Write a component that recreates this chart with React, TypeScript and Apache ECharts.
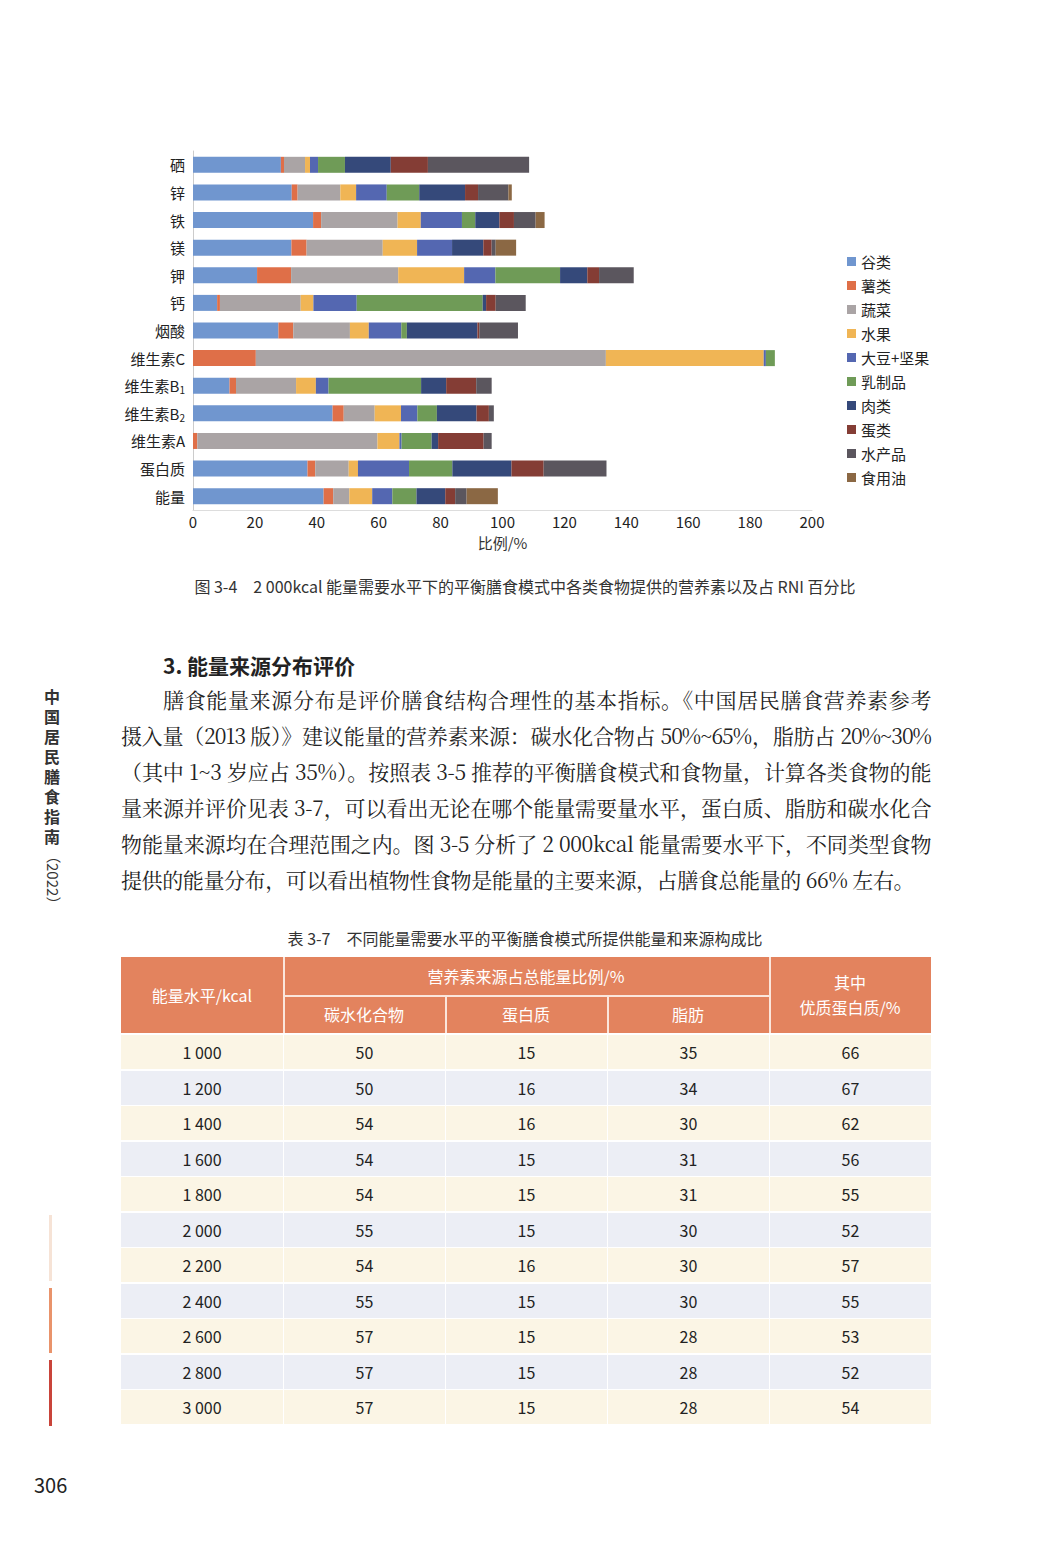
import React, { useEffect, useRef } from "react";
import * as echarts from "echarts";

const categories = ["硒", "锌", "铁", "镁", "钾", "钙", "烟酸", "维生素C", "维生素B1", "维生素B2", "维生素A", "蛋白质", "能量"];
const seriesNames = ["谷类", "薯类", "蔬菜", "水果", "大豆+坚果", "乳制品", "肉类", "蛋类", "水产品", "食用油"];
const colors = ["#7096cf", "#df6f48", "#aaa4a5", "#f0b555", "#5467b1", "#6f9b57", "#35497a", "#843d35", "#5b565e", "#8b6844"];
// rows: one per category, values per series
const rowSe = [28.4, 1.0, 6.8, 1.6, 2.6, 8.7, 14.8, 12.0, 32.7, 0];
const rowZn = [31.9, 1.9, 13.8, 5.1, 9.9, 10.5, 14.8, 4.2, 9.8, 1.1];
const rowFe = [38.8, 2.6, 24.7, 7.5, 13.3, 4.3, 7.8, 4.7, 7.0, 2.9];
const rowMg = [31.8, 4.9, 24.6, 11.1, 11.3, 0, 10.1, 2.7, 1.3, 6.6];
const rowK = [20.7, 11.0, 34.6, 21.3, 10.1, 20.9, 8.8, 3.8, 11.2, 0];
const rowCa = [7.8, 0.9, 26.1, 4.1, 14.0, 40.7, 1.1, 3.1, 9.7, 0];
const rowNiacin = [27.6, 4.8, 18.3, 6.1, 10.5, 1.8, 22.8, 0.6, 12.5, 0];
const rowVC = [0, 20.3, 113.1, 51.0, 0.7, 2.9, 0, 0, 0, 0];
const rowB1 = [11.8, 2.1, 19.4, 6.4, 4.1, 29.9, 8.1, 9.7, 5.0, 0];
const rowB2 = [45.1, 3.6, 10.0, 8.5, 5.3, 6.3, 12.8, 4.0, 1.6, 0];
const rowVA = [0, 1.4, 58.2, 7.1, 0.7, 9.7, 2.1, 14.7, 2.6, 0];
const rowProtein = [37.0, 2.5, 10.8, 3.0, 16.5, 14.0, 19.1, 10.4, 20.3, 0];
const rowEnergy = [42.2, 3.1, 5.2, 7.4, 6.5, 7.8, 9.3, 3.2, 3.7, 10.1];
const rows = [rowSe, rowZn, rowFe, rowMg, rowK, rowCa, rowNiacin, rowVC, rowB1, rowB2, rowVA, rowProtein, rowEnergy];
const xTicks = [0, 20, 40, 60, 80, 100, 120, 140, 160, 180, 200];

const tableHead = ["能量水平/kcal", "碳水化合物", "蛋白质", "脂肪", "其中\n优质蛋白质/%"];
const tEnergy = ["1 000", "1 200", "1 400", "1 600", "1 800", "2 000", "2 200", "2 400", "2 600", "2 800", "3 000"];
const tCarb = [50, 50, 54, 54, 54, 55, 54, 55, 57, 57, 57];
const tProt = [15, 16, 16, 15, 15, 15, 16, 15, 15, 15, 15];
const tFat = [35, 34, 30, 31, 31, 30, 30, 30, 28, 28, 28];
const tQuality = [66, 67, 62, 56, 55, 52, 57, 55, 53, 52, 54];

const paraLines = [
  "膳食能量来源分布是评价膳食结构合理性的基本指标。《中国居民膳食营养素参考",
  "摄入量（2013 版）》建议能量的营养素来源：碳水化合物占 50%~65%，脂肪占 20%~30%",
  "（其中 1~3 岁应占 35%）。按照表 3-5 推荐的平衡膳食模式和食物量，计算各类食物的能",
  "量来源并评价见表 3-7，可以看出无论在哪个能量需要量水平，蛋白质、脂肪和碳水化合",
  "物能量来源均在合理范围之内。图 3-5 分析了 2 000kcal 能量需要水平下，不同类型食物",
  "提供的能量分布，可以看出植物性食物是能量的主要来源，占膳食总能量的 66% 左右。",
];

const sans = "'Noto Sans CJK SC', 'Noto Sans', sans-serif";
const serif = "'Noto Serif CJK SC', 'Liberation Serif', 'Noto Sans CJK SC', serif";

function Chart() {
  const ref = useRef<HTMLDivElement>(null);
  useEffect(() => {
    const chart = echarts.init(ref.current!, undefined, { renderer: "svg" });
    chart.setOption({
      animation: false,
      grid: { left: 93, top: 11, width: 619, height: 359 },
      legend: {
        orient: "vertical", left: 742, top: 109, itemWidth: 9, itemHeight: 9, itemGap: 9,
        icon: "rect", textStyle: { fontSize: 15, color: "#222", fontFamily: sans },
        data: seriesNames,
      },
      xAxis: {
        type: "value", min: 0, max: 200, interval: 20,
        name: "比例/%", nameLocation: "middle", nameGap: 25,
        nameTextStyle: { fontSize: 15, color: "#333", fontFamily: sans },
        axisLine: { show: true, lineStyle: { color: "#ddd" } },
        axisTick: { show: false }, splitLine: { show: false },
        axisLabel: { fontSize: 15, color: "#222", margin: 4, fontFamily: sans, formatter: (v: number) => (xTicks.includes(v) ? String(v) : "") },
      },
      yAxis: {
        type: "category", inverse: true, data: categories,
        axisLine: { lineStyle: { color: "#ccc" } }, axisTick: { lineStyle: { color: "#ccc" }, length: 3 },
        axisLabel: {
          fontSize: 15, color: "#222", margin: 8, fontFamily: sans,
          formatter: (v: string) => (v === "维生素B1" ? "维生素B{s|1}" : v === "维生素B2" ? "维生素B{s|2}" : v),
          rich: { s: { fontSize: 10, verticalAlign: "bottom", padding: [8, 0, 0, 0], color: "#222" } },
        },
      },
      series: seriesNames.map((n, i) => ({
        name: n, type: "bar", stack: "a", barWidth: 16,
        itemStyle: { color: colors[i] },
        data: rows.map((r) => r[i]),
      })),
    });
    return () => chart.dispose();
  }, []);
  return <div ref={ref} style={{ position: "absolute", left: 100, top: 140, width: 860, height: 430 }} />;
}

export default function App() {
  const colL = [121, 283, 445, 607, 769];
  const colW = 162;
  const rowTop = 1035;
  const rowH = 35.5;
  return (
    <div style={{ position: "absolute", left: 0, top: 0, width: 1064, height: 1547, background: "#fff", overflow: "hidden", fontFamily: sans }}>
      <Chart />
      <div style={{ position: "absolute", left: 0, width: 1050, top: 574, textAlign: "center", fontSize: 16, color: "#333" }}>
        图 3-4　2 000kcal 能量需要水平下的平衡膳食模式中各类食物提供的营养素以及占 RNI 百分比
      </div>
      <div style={{ position: "absolute", left: 163, top: 650, fontSize: 21, fontWeight: 700, color: "#222" }}>3. 能量来源分布评价</div>
      {paraLines.map((l, i) => (
        <div key={i} style={{ position: "absolute", left: i === 0 ? 163 : 121, width: i === 0 ? 768 : 810, top: 684 + i * 36, fontSize: 21, fontFamily: serif, color: "#222", textAlign: i === 5 ? "left" : "justify", textAlignLast: i === 5 ? "left" : "justify", whiteSpace: "nowrap", letterSpacing: i === 1 ? -1 : -0.4 }}>{l}</div>
      ))}
      <div style={{ position: "absolute", left: 41, top: 686, width: 22, fontSize: 16, fontWeight: 700, color: "#333", lineHeight: "20px", textAlign: "center" }}>
        {"中国居民膳食指南".split("").map((c, i) => <div key={i} style={{ height: 20 }}>{c}</div>)}
        <div style={{ writingMode: "vertical-rl", fontWeight: 400, fontSize: 15, marginTop: 2, marginLeft: 2 }}>（2022）</div>
      </div>
      <div style={{ position: "absolute", left: 49, top: 1215, width: 3, height: 66, background: "#f6e3d6" }} />
      <div style={{ position: "absolute", left: 49, top: 1288, width: 3, height: 65, background: "#e9936b" }} />
      <div style={{ position: "absolute", left: 49, top: 1360, width: 3, height: 66, background: "#c9443a" }} />
      <div style={{ position: "absolute", left: 34, top: 1470, fontSize: 20, color: "#222" }}>306</div>
      <div style={{ position: "absolute", left: 0, width: 1050, top: 926, textAlign: "center", fontSize: 16, color: "#333" }}>
        表 3-7　不同能量需要水平的平衡膳食模式所提供能量和来源构成比
      </div>
      <div style={{ position: "absolute", left: 121, top: 957, width: 810, height: 76, background: "#e3835e" }} />
      <div style={{ position: "absolute", left: 283, top: 957, width: 1.5, height: 76, background: "#fbe6dc" }} />
      <div style={{ position: "absolute", left: 769, top: 957, width: 1.5, height: 76, background: "#fbe6dc" }} />
      <div style={{ position: "absolute", left: 283, top: 995, width: 487, height: 1.5, background: "#fbe6dc" }} />
      <div style={{ position: "absolute", left: 445, top: 996, width: 1.5, height: 37, background: "#fbe6dc" }} />
      <div style={{ position: "absolute", left: 607, top: 996, width: 1.5, height: 37, background: "#fbe6dc" }} />
      <div style={{ position: "absolute", left: 121, top: 957, width: 162, height: 76, lineHeight: "76px", textAlign: "center", color: "#fff", fontSize: 16 }}>{tableHead[0]}</div>
      <div style={{ position: "absolute", left: 283, top: 957, width: 486, height: 38, lineHeight: "38px", textAlign: "center", color: "#fff", fontSize: 16 }}>营养素来源占总能量比例/%</div>
      {[1, 2, 3].map((k) => (
        <div key={k} style={{ position: "absolute", left: colL[k], top: 996, width: colW, height: 37, lineHeight: "37px", textAlign: "center", color: "#fff", fontSize: 16 }}>{tableHead[k]}</div>
      ))}
      <div style={{ position: "absolute", left: 769, top: 970, width: 162, textAlign: "center", color: "#fff", fontSize: 16, lineHeight: "25px", whiteSpace: "pre" }}>{tableHead[4]}</div>
      {tEnergy.map((e, r) => {
        const vals = [e, tCarb[r], tProt[r], tFat[r], tQuality[r]];
        return (
          <React.Fragment key={r}>
            {vals.map((v, c) => (
              <div key={c} style={{ position: "absolute", left: colL[c] + (c ? 1 : 0), top: rowTop + r * rowH, width: colW - (c ? 1 : 0), height: rowH - 1.5, lineHeight: rowH + "px", textAlign: "center", fontSize: 16, color: "#222", background: r % 2 === 0 ? "#fbf5e5" : "#eceef5" }}>{String(v)}</div>
            ))}
          </React.Fragment>
        );
      })}
    </div>
  );
}
